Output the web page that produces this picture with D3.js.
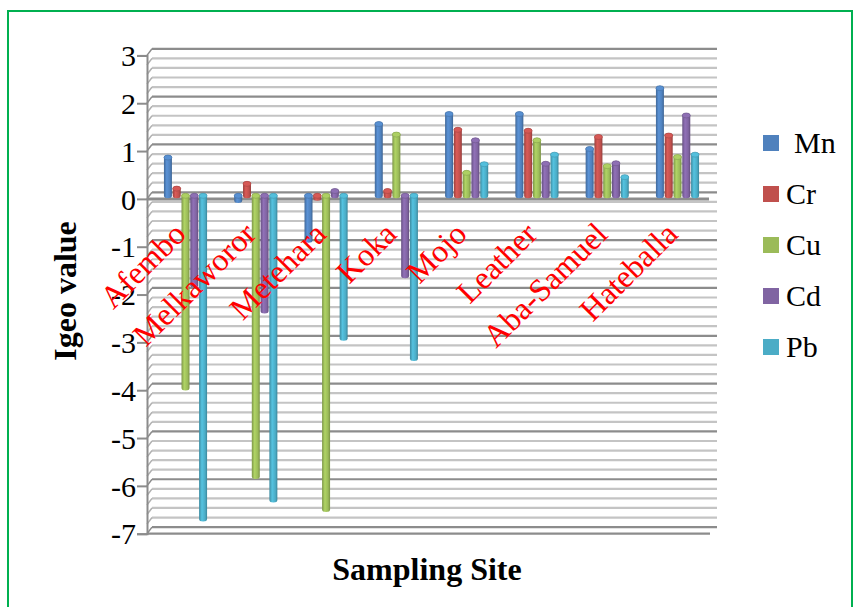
<!DOCTYPE html>
<html>
<head>
<meta charset="utf-8">
<script src="https://cdn.jsdelivr.net/npm/d3@7"></script>
<style>
  body { margin: 0; background: #fff; }
  svg { display: block; }
</style>
</head>
<body>
<svg id="chart" width="860" height="607"></svg>
<script>
// data
const sites = ['Afembo', 'Melkaworor', 'Metehara', 'Koka', 'Mojo', 'Leather', 'Aba-Samuel', 'Hateballa'];
const metals = ['Mn', 'Cr', 'Cu', 'Cd', 'Pb'];
const Mn = [0.8, -0.1, -0.93, 1.5, 1.71, 1.71, 0.98, 2.25];
const Cr = [0.15, 0.25, -0.05, 0.1, 1.38, 1.36, 1.23, 1.26];
const Cu = [-4.02, -5.87, -6.56, 1.28, 0.48, 1.16, 0.62, 0.81];
const Cd = [-1.87, -2.41, 0.1, -1.67, 1.16, 0.67, 0.68, 1.68];
const Pb = [-6.76, -6.36, -2.98, -3.4, 0.66, 0.86, 0.39, 0.86];
const yTicks = [3, 2, 1, 0, -1, -2, -3, -4, -5, -6, -7];
const colors = ['#4F81BD', '#C0504D', '#9BBB59', '#8064A2', '#4BACC6'];

const FONT = '"Liberation Serif", "Times New Roman", Times, serif';

const series = { Mn, Cr, Cu, Cd, Pb };
const rows = sites.map((s, i) => {
  const r = { site: s };
  metals.forEach(m => r[m] = series[m][i]);
  return r;
});

const svg = d3.select('#chart');

// green frame
svg.append('rect')
  .attr('x', 8).attr('y', 11)
  .attr('width', 844).attr('height', 620)
  .attr('fill', 'none')
  .attr('stroke', '#00B050')
  .attr('stroke-width', 2);

// scales: front plane, back wall and bar plane (middle depth)
const yFront = d3.scaleLinear().domain([-7, 3]).range([533.7, 55.4]);
const depthX = 5, depthY = 6.6;
const yBack = v => yFront(v) - depthY;
const yBar = v => yFront(v) - 3.1;

const xFront = 147;
const xBack = xFront + depthX;
const xRight = 717;

const x0 = d3.scaleBand()
  .domain(sites)
  .range([153, 710])
  .paddingInner(0.375)
  .paddingOuter(0.15);

const x1 = d3.scaleBand()
  .domain(metals)
  .range([0, x0.bandwidth()]);

const color = d3.scaleOrdinal().domain(metals).range(colors);

// grid on the back wall + side wall
const gridVals = d3.range(-35, 16).map(k => +(k * 0.2).toFixed(1));
const grid = svg.append('g');
grid.selectAll('line.h')
  .data(gridVals)
  .enter().append('line')
  .attr('x1', xBack).attr('x2', xRight)
  .attr('y1', d => yBack(d)).attr('y2', d => yBack(d))
  .attr('stroke', d => Number.isInteger(d) ? '#8c8c8c' : '#c4c4c4')
  .attr('stroke-width', 2.2);
grid.selectAll('line.s')
  .data(gridVals)
  .enter().append('line')
  .attr('x1', xFront).attr('x2', xBack)
  .attr('y1', d => yFront(d)).attr('y2', d => yBack(d))
  .attr('stroke', d => Number.isInteger(d) ? '#8c8c8c' : '#b0b0b0')
  .attr('stroke-width', 1.5);

// floor front edge
svg.append('line')
  .attr('x1', xFront).attr('x2', 710)
  .attr('y1', yFront(-7)).attr('y2', yFront(-7))
  .attr('stroke', '#8c8c8c').attr('stroke-width', 2.2);

// gradients for cylinders
const defs = svg.append('defs');
metals.forEach(m => {
  const c = d3.color(color(m));
  const g = defs.append('linearGradient')
    .attr('id', 'grad-' + m)
    .attr('x1', '0%').attr('x2', '100%').attr('y1', '0%').attr('y2', '0%');
  g.append('stop').attr('offset', '0%').attr('stop-color', c.darker(0.6));
  g.append('stop').attr('offset', '35%').attr('stop-color', c.brighter(0.35));
  g.append('stop').attr('offset', '75%').attr('stop-color', c);
  g.append('stop').attr('offset', '100%').attr('stop-color', c.darker(0.7));
});

// zero line (category axis)
svg.append('line')
  .attr('x1', xFront).attr('x2', 709)
  .attr('y1', yFront(0)).attr('y2', yFront(0))
  .attr('stroke', '#8c8c8c').attr('stroke-width', 3);

// bars
const ry = 2.5;
const groups = svg.append('g')
  .selectAll('g')
  .data(rows)
  .enter().append('g')
  .attr('transform', d => `translate(${x0(d.site)},0)`);

const bars = groups.selectAll('g')
  .data(d => metals.map(m => ({ key: m, value: d[m] })))
  .enter().append('g');

bars.append('rect')
  .attr('x', d => x1(d.key) + 0.4)
  .attr('y', d => yBar(Math.max(0, d.value)) - ry)
  .attr('width', x1.bandwidth() - 0.8)
  .attr('height', d => Math.abs(yBar(d.value) - yBar(0)) + 2 * ry)
  .attr('rx', (x1.bandwidth() - 0.8) / 2)
  .attr('ry', ry)
  .attr('fill', d => `url(#grad-${d.key})`);

bars.append('ellipse')
  .attr('cx', d => x1(d.key) + x1.bandwidth() / 2)
  .attr('cy', d => yBar(Math.max(0, d.value)))
  .attr('rx', (x1.bandwidth() - 0.8) / 2)
  .attr('ry', ry)
  .attr('fill', d => d3.color(color(d.key)).brighter(0.3))
  .attr('stroke', d => d3.color(color(d.key)).darker(0.4))
  .attr('stroke-width', 0.6);

// front value axis
const leftAxis = d3.axisLeft(yFront)
  .tickValues(yTicks)
  .tickSize(10)
  .tickPadding(1)
  .tickFormat(d => d < 0 ? '-' + Math.abs(d) : String(d));

const axisG = svg.append('g')
  .attr('transform', `translate(${xFront},0)`)
  .call(leftAxis);
axisG.select('.domain').attr('stroke', '#8c8c8c').attr('stroke-width', 2);
axisG.selectAll('.tick line').attr('stroke', '#8c8c8c').attr('stroke-width', 2);
axisG.selectAll('.tick text')
  .style('font-family', FONT)
  .style('font-size', '30px')
  .attr('dy', '0.34em')
  .attr('fill', '#000');

// category labels
svg.append('g')
  .selectAll('text')
  .data(sites)
  .enter().append('text')
  .attr('transform', d => `translate(${x0(d) + x0.bandwidth() / 2 + 2},236) rotate(-45)`)
  .attr('text-anchor', 'end')
  .style('font-family', FONT)
  .style('font-size', '32px')
  .attr('fill', '#FF0000')
  .text(d => d);

// axis titles
svg.append('text')
  .attr('x', 427).attr('y', 580)
  .attr('text-anchor', 'middle')
  .style('font-family', FONT)
  .style('font-size', '32px')
  .style('font-weight', 'bold')
  .text('Sampling Site');

svg.append('text')
  .attr('transform', 'translate(76,291) rotate(-90)')
  .attr('text-anchor', 'middle')
  .style('font-family', FONT)
  .style('font-size', '32px')
  .style('font-weight', 'bold')
  .text('Igeo value');

// legend
const legend = svg.append('g');
legend.selectAll('rect')
  .data(metals)
  .enter().append('rect')
  .attr('x', 763)
  .attr('y', (d, i) => 135 + i * 51)
  .attr('width', 16).attr('height', 16)
  .attr('fill', d => color(d));

legend.selectAll('text')
  .data(metals)
  .enter().append('text')
  .attr('x', (d, i) => i === 0 ? 794 : 786)
  .attr('y', (d, i) => 153 + i * 51)
  .style('font-family', FONT)
  .style('font-size', '30px')
  .text(d => d);
</script>
</body>
</html>
